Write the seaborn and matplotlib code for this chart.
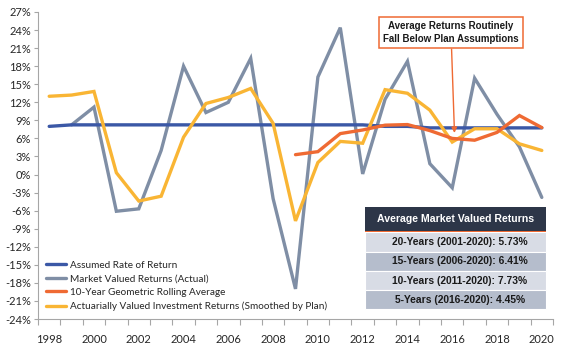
import numpy as np
import pandas as pd
import matplotlib
matplotlib.use("Agg")
import matplotlib.pyplot as plt
from matplotlib.patches import Rectangle
from matplotlib.ticker import FixedLocator, FuncFormatter
import seaborn as sns

# ---- data -------------------------------------------------------------
years = list(range(1998, 2021))
nan = np.nan

assumed_rate = [8.0, 8.25, 8.25, 8.25, 8.25, 8.25, 8.25, 8.25, 8.25, 8.25, 8.25,
                8.25, 8.25, 8.25, 8.25, 8.0, 8.0, 7.75, 7.75, 7.75, 7.75, 7.75, 7.75]
market_returns = [nan, 8.25, 11.2, -6.1, -5.7, 4.0, 18.0, 10.3, 12.0, 19.3, -4.0,
                  -19.0, 16.2, 24.4, 0.1, 12.5, 18.8, 1.8, -2.2, 16.0, 10.0, 4.6, -3.8]
rolling_10yr = [nan, nan, nan, nan, nan, nan, nan, nan, nan, nan, nan,
                3.3, 3.8, 6.8, 7.4, 8.2, 8.3, 7.3, 6.0, 5.7, 7.0, 9.8, 7.8]
actuarial_returns = [13.0, 13.2, 13.8, 0.3, -4.4, -3.6, 6.2, 11.8, 12.8, 14.3, 8.5,
                     -7.7, 2.0, 5.5, 5.2, 14.1, 13.5, 10.7, 5.4, 7.6, 7.6, 5.1, 4.0]

series_names = ["Assumed Rate of Return",
                "Market Valued Returns (Actual)",
                "10-Year Geometric Rolling Average",
                "Actuarially Valued Investment Returns (Smoothed by Plan)"]
series_colors = ["#3b58a6", "#7f8ea5", "#ef6a33", "#f9b534"]

table_title = "Average Market Valued Returns"
table_rows = ["20-Years (2001-2020): 5.73%",
              "15-Years (2006-2020): 6.41%",
              "10-Years (2011-2020): 7.73%",
              "5-Years (2016-2020): 4.45%"]
callout_text = "Average Returns Routinely\nFall Below Plan Assumptions"
callout_year, callout_value = 2016.1, 6.9

y_ticks = list(range(-24, 28, 3))
x_labels = list(range(1998, 2021, 2))

# ---- figure -----------------------------------------------------------
sns.set_theme(style="white")
plt.rcParams["font.family"] = ["Lato", "DejaVu Sans"]

W, H = 562, 344
fig = plt.figure(figsize=(W / 100, H / 100), dpi=100)
ax = fig.add_axes([38 / W, 1 - 319 / H, (553 - 38) / W, (319 - 12) / H])

df = pd.DataFrame({"Year": years,
                   series_names[0]: assumed_rate,
                   series_names[1]: market_returns,
                   series_names[2]: rolling_10yr,
                   series_names[3]: actuarial_returns})
long = df.melt(id_vars="Year", var_name="Series", value_name="Return").dropna()

sns.lineplot(data=long, x="Year", y="Return", hue="Series",
             hue_order=series_names, palette=series_colors,
             linewidth=2.4, ax=ax, sort=True, estimator=None)

# draw order: market on the back, assumed rate above it
for line, z in zip(ax.get_lines()[:4], [3, 2, 5, 4]):
    line.set_zorder(z)
    line.set_solid_joinstyle("miter")

ax.set_xlim(1997.5, 2020.5)
ax.set_ylim(-24, 27)
ax.set_xlabel("")
ax.set_ylabel("")

ax.yaxis.set_major_locator(FixedLocator(y_ticks))
ax.yaxis.set_major_formatter(FuncFormatter(lambda v, _: f"{int(v)}%"))
ax.xaxis.set_major_locator(FixedLocator(x_labels))
ax.xaxis.set_minor_locator(FixedLocator(np.arange(1997.5, 2021, 1.0)))

ax.tick_params(axis="y", which="major", left=True, length=3, width=0.8,
               color="#a6a6a6", labelsize=8, labelcolor="#262626", pad=2)
ax.tick_params(axis="x", which="major", bottom=False, labelsize=8,
               labelcolor="#262626", pad=5)
ax.tick_params(axis="x", which="minor", bottom=True, length=4, width=0.8,
               color="#a6a6a6")

for side in ["top", "right"]:
    ax.spines[side].set_visible(False)
for side in ["left", "bottom"]:
    ax.spines[side].set_color("#a6a6a6")
    ax.spines[side].set_linewidth(0.8)

# legend
handles, labels = ax.get_legend_handles_labels()
leg = ax.legend(handles, labels, loc="lower left", bbox_to_anchor=(0.0, 0.0),
                frameon=False, fontsize=7.2, handlelength=2.0,
                handletextpad=0.35, labelspacing=0.45, borderaxespad=0.4)
for lh in leg.get_lines():
    lh.set_linewidth(2.4)
for t in leg.get_texts():
    t.set_color("#262626")

# callout with arrow
ax.annotate(callout_text, xy=(callout_year, callout_value),
            xytext=(451 / W, 1 - 32.5 / H), textcoords="figure fraction",
            ha="center", va="center", fontsize=7.0, fontweight="bold",
            family=["Liberation Sans", "DejaVu Sans"], color="#1a1a1a",
            linespacing=1.4,
            bbox=dict(boxstyle="square,pad=0.45", fc="white", ec="#ef6a33", lw=1.1),
            arrowprops=dict(arrowstyle="-|>", color="#ef6a33", lw=1.0,
                            mutation_scale=8, shrinkA=0, shrinkB=0),
            zorder=10)

# summary table
tx0, tx1 = 365, 546
ty_head0, ty_head1 = 207, 231
row_h = (309 - 232) / 4


def fig_rect(x0, y0, x1, y1, **kw):
    r = Rectangle((x0 / W, 1 - y1 / H), (x1 - x0) / W, (y1 - y0) / H,
                  transform=fig.transFigure, **kw)
    fig.add_artist(r)


fig_rect(tx0, ty_head0, tx1, ty_head1, fc="#2d3648", ec="none", zorder=20)
fig_rect(tx0, ty_head1, tx1, ty_head1 + 1.4, fc="#ef6a33", ec="none", zorder=21)
fig.text((tx0 + tx1) / 2 / W, 1 - (ty_head0 + ty_head1) / 2 / H, table_title,
         ha="center", va="center", fontsize=7.6, fontweight="bold", color="white",
         family=["Liberation Sans", "DejaVu Sans"], zorder=22)
row_colors = ["#d8dce5", "#b5bdcc"]
for i, txt in enumerate(table_rows):
    y0 = ty_head1 + 1.4 + i * row_h
    fig_rect(tx0, y0, tx1, y0 + row_h, fc=row_colors[i % 2], ec="white",
             lw=0.8, zorder=20)
    fig.text((tx0 + tx1) / 2 / W + 0.008, 1 - (y0 + row_h / 2) / H, txt,
             ha="center", va="center", fontsize=7.4, fontweight="bold",
             color="#1a1a1a", family=["Liberation Sans", "DejaVu Sans"], zorder=22)

fig.savefig("out.png", dpi=100)
